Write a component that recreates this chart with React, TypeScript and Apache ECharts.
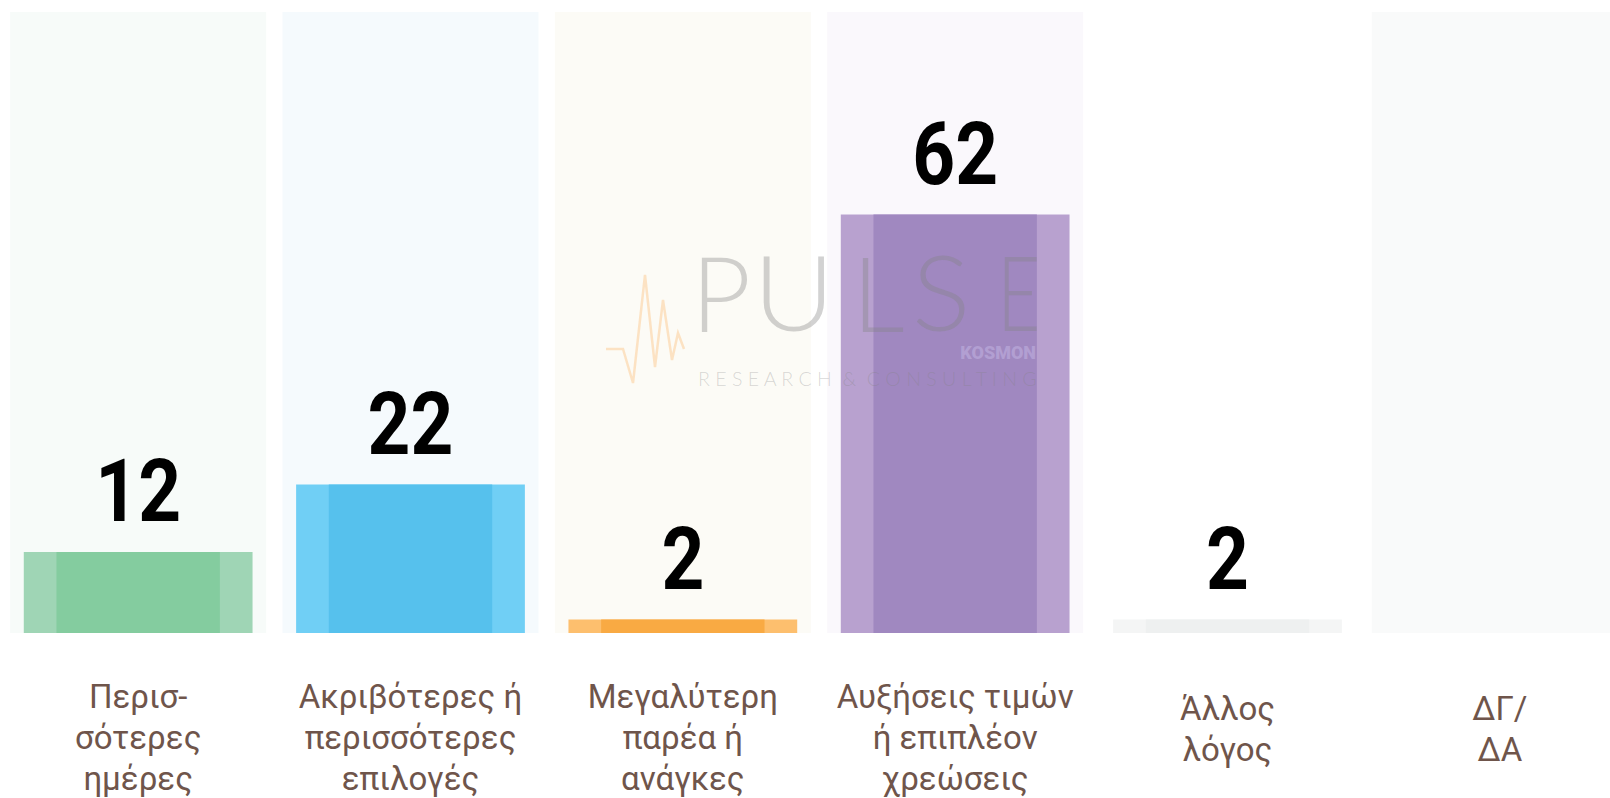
import React, { useEffect, useRef } from "react";
import * as echarts from "echarts";

const categories: string[] = [
  "Περισ-\nσότερες\nημέρες",
  "Ακριβότερες ή\nπερισσότερες\nεπιλογές",
  "Μεγαλύτερη\nπαρέα ή\nανάγκες",
  "Αυξήσεις τιμών\nή επιπλέον\nχρεώσεις",
  "Άλλος\nλόγος",
  "ΔΓ/\nΔΑ",
];
const values: number[] = [12, 22, 2, 62, 2, 0];
const axisMax = 92;
const backgroundValues: number[] = [92, 92, 92, 92, 92, 92];

const bgColors = ["#f7fbf9", "#f5fafd", "#fcfbf6", "#faf8fc", "#ffffff", "#f9fafa"];
const outerColors = ["#9fd5b5", "#70cff5", "#fdbf6e", "#b8a1cf", "#f4f5f5", "#f4f5f5"];
const innerColors = ["#84cc9f", "#56c1ed", "#f9aa43", "#a088c0", "#eef0f0", "#eef0f0"];

const pulseLetters = ["P", "U", "L", "S", "E"];
const subtitle = "R E S E A R C H  &  C O N S U L T I N G";

export default function App() {
  const ref = useRef<HTMLDivElement>(null);
  useEffect(() => {
    if (!ref.current) return;
    const chart = echarts.init(ref.current, undefined, { renderer: "svg" });

    const hiddenAxis = () => ({
      type: "category",
      data: categories,
      gridIndex: 0,
      show: false,
    });

    const letterX = [691, 753, 852, 912, 997];
    const letterScale = [1, 1.08, 1, 1.05, 0.72];
    const graphics: any[] = [];
    graphics.push({
      type: "polyline",
      z: 100,
      silent: true,
      shape: {
        points: [
          [606, 349], [623, 349], [633, 383], [645, 275], [655, 367],
          [663, 300], [672, 360], [678, 333], [684, 349],
        ],
      },
      style: { stroke: "rgba(253,190,120,0.4)", lineWidth: 2.5, fill: null },
    });
    graphics.push({
      type: "line",
      z: 100,
      silent: true,
      shape: { x1: 684, y1: 349.5, x2: 930, y2: 349.5 },
      style: {
        stroke: new echarts.graphic.LinearGradient(0, 0, 1, 0, [
          { offset: 0, color: "rgba(253,190,120,0.4)" },
          { offset: 1, color: "rgba(240,150,190,0.4)" },
        ]),
        lineWidth: 2,
      },
    });
    pulseLetters.forEach((ch, i) => {
      graphics.push({
        type: "text",
        z: 100,
        silent: true,
        x: letterX[i],
        y: 291,
        scaleX: letterScale[i],
        style: {
          text: ch,
          font: "300 104px Lato, 'Open Sans', sans-serif",
          lineHeight: 76,
          fill: "rgba(130,130,130,0.36)",
          verticalAlign: "middle",
        },
      });
    });
    graphics.push({
      type: "text",
      z: 100,
      silent: true,
      x: 698,
      y: 378,
      style: {
        text: subtitle,
        font: "300 19.6px Lato, 'Open Sans', sans-serif",
        lineHeight: 16,
        fill: "rgba(130,130,130,0.3)",
        verticalAlign: "middle",
      },
    });
    graphics.push({
      type: "text",
      z: 100,
      silent: true,
      x: 1036,
      y: 352,
      style: {
        text: "KOSMON",
        font: "900 18px Roboto, sans-serif",
        lineHeight: 13,
        fill: "rgba(215,205,245,0.35)",
        align: "right",
        verticalAlign: "middle",
      },
    });

    chart.setOption({
      animation: false,
      grid: {
        left: 2,
        right: 4,
        top: 12,
        bottom: 165,
        containLabel: false,
        outerBoundsMode: "none",
      },
      xAxis: [
        {
          type: "category",
          data: categories,
          axisLine: { show: false },
          axisTick: { show: false },
          splitLine: { show: false },
          axisLabel: {
            interval: 0,
            color: "#6f554b",
            fontFamily: "Roboto, sans-serif",
            fontSize: 33,
            lineHeight: 41,
            verticalAlign: "middle",
            margin: 104,
            formatter: (v: string) => (v.split("\n").length < 3 ? v + "\n{s| }" : v),
            rich: { s: { fontSize: 2, lineHeight: 16 } },
          },
        },
        hiddenAxis(),
        hiddenAxis(),
      ],
      yAxis: {
        type: "value",
        min: 0,
        max: axisMax,
        show: false,
        splitLine: { show: false },
      },
      series: [
        {
          type: "bar",
          xAxisIndex: 0,
          silent: true,
          barWidth: "94%",
          z: 1,
          data: backgroundValues.map((v, i) => ({ value: v, itemStyle: { color: bgColors[i] } })),
        },
        {
          type: "bar",
          xAxisIndex: 1,
          barWidth: "84%",
          z: 2,
          data: values.map((v, i) => ({ value: v, itemStyle: { color: outerColors[i] } })),
        },
        {
          type: "bar",
          xAxisIndex: 2,
          barWidth: "60%",
          z: 3,
          data: values.map((v, i) => ({ value: v, itemStyle: { color: innerColors[i] } })),
        },
        {
          type: "custom",
          xAxisIndex: 0,
          z: 4,
          encode: { x: 0, y: 1 },
          data: values.map((v, i) => [i, v]),
          renderItem: (params: any, api: any) => {
            const v = api.value(1);
            if (!v) return { type: "group", children: [] };
            const pt = api.coord([api.value(0), v]);
            return {
              type: "text",
              x: pt[0],
              y: pt[1] - 17,
              scaleX: 0.85,
              style: {
                text: String(v),
                font: "bold 88px Roboto, sans-serif",
                fill: "#000000",
                align: "center",
                verticalAlign: "bottom",
              },
            };
          },
        },
      ],
      graphic: graphics,
    });
    return () => chart.dispose();
  }, []);
  return (
    <div style={{ position: "fixed", left: 0, top: 0, width: 1610, height: 798, overflow: "hidden", background: "#ffffff" }}>
      <div ref={ref} style={{ width: 1640, height: 798 }} />
    </div>
  );
}
